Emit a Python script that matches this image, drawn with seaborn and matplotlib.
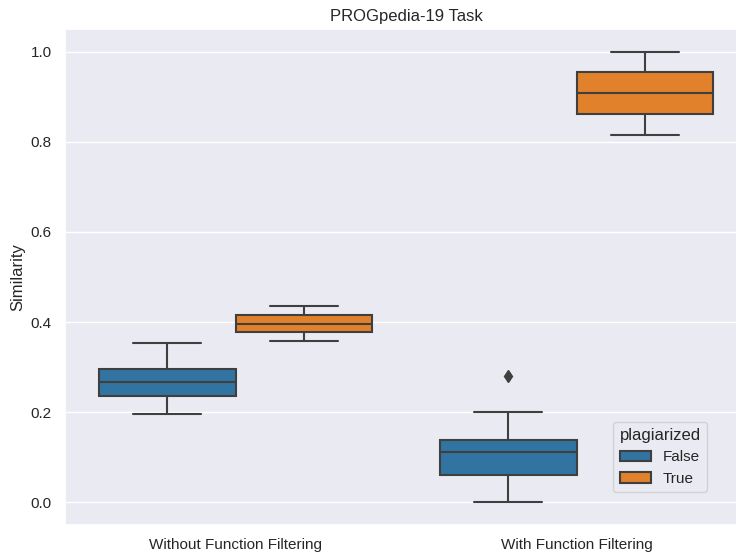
import matplotlib
matplotlib.use("Agg")
import matplotlib.pyplot as plt
import seaborn as sns
import pandas as pd

# Data
categories = ["Without Function Filtering", "With Function Filtering"]
without_false = [0.197, 0.236, 0.267, 0.296, 0.354]
without_true = [0.358, 0.378, 0.395, 0.416, 0.436]
with_false = [0.000, 0.030, 0.060, 0.090, 0.111, 0.125, 0.139, 0.201, 0.281]
with_true = [0.816, 0.861, 0.907, 0.954, 1.000]

rows = []
for v in without_false:
    rows.append((categories[0], False, v))
for v in without_true:
    rows.append((categories[0], True, v))
for v in with_false:
    rows.append((categories[1], False, v))
for v in with_true:
    rows.append((categories[1], True, v))
df = pd.DataFrame(rows, columns=["filtering", "plagiarized", "Similarity"])

sns.set_theme(style="darkgrid")
plt.rcParams["font.family"] = ["Liberation Sans", "DejaVu Sans"]

fig = plt.figure(figsize=(7.36, 5.56), dpi=100)
ax = fig.add_axes([65 / 736, 31 / 556, 682 / 736, 496 / 556])

sns.boxplot(
    data=df, x="filtering", y="Similarity", hue="plagiarized",
    order=categories, hue_order=[False, True],
    palette=["#1f77b4", "#ff7f0e"], saturation=0.75,
    linecolor="#3f3f3f", linewidth=1.5,
    flierprops=dict(marker="d", markerfacecolor="#3f3f3f",
                    markeredgecolor="#3f3f3f", markersize=6),
    ax=ax,
)

ax.set_title("PROGpedia-19 Task")
ax.set_xlabel("")
ax.set_ylabel("Similarity")
ax.legend(title="plagiarized", loc="lower right",
          bbox_to_anchor=(0.941, 0.0665), borderaxespad=0)

fig.savefig("out.png", dpi=100)
